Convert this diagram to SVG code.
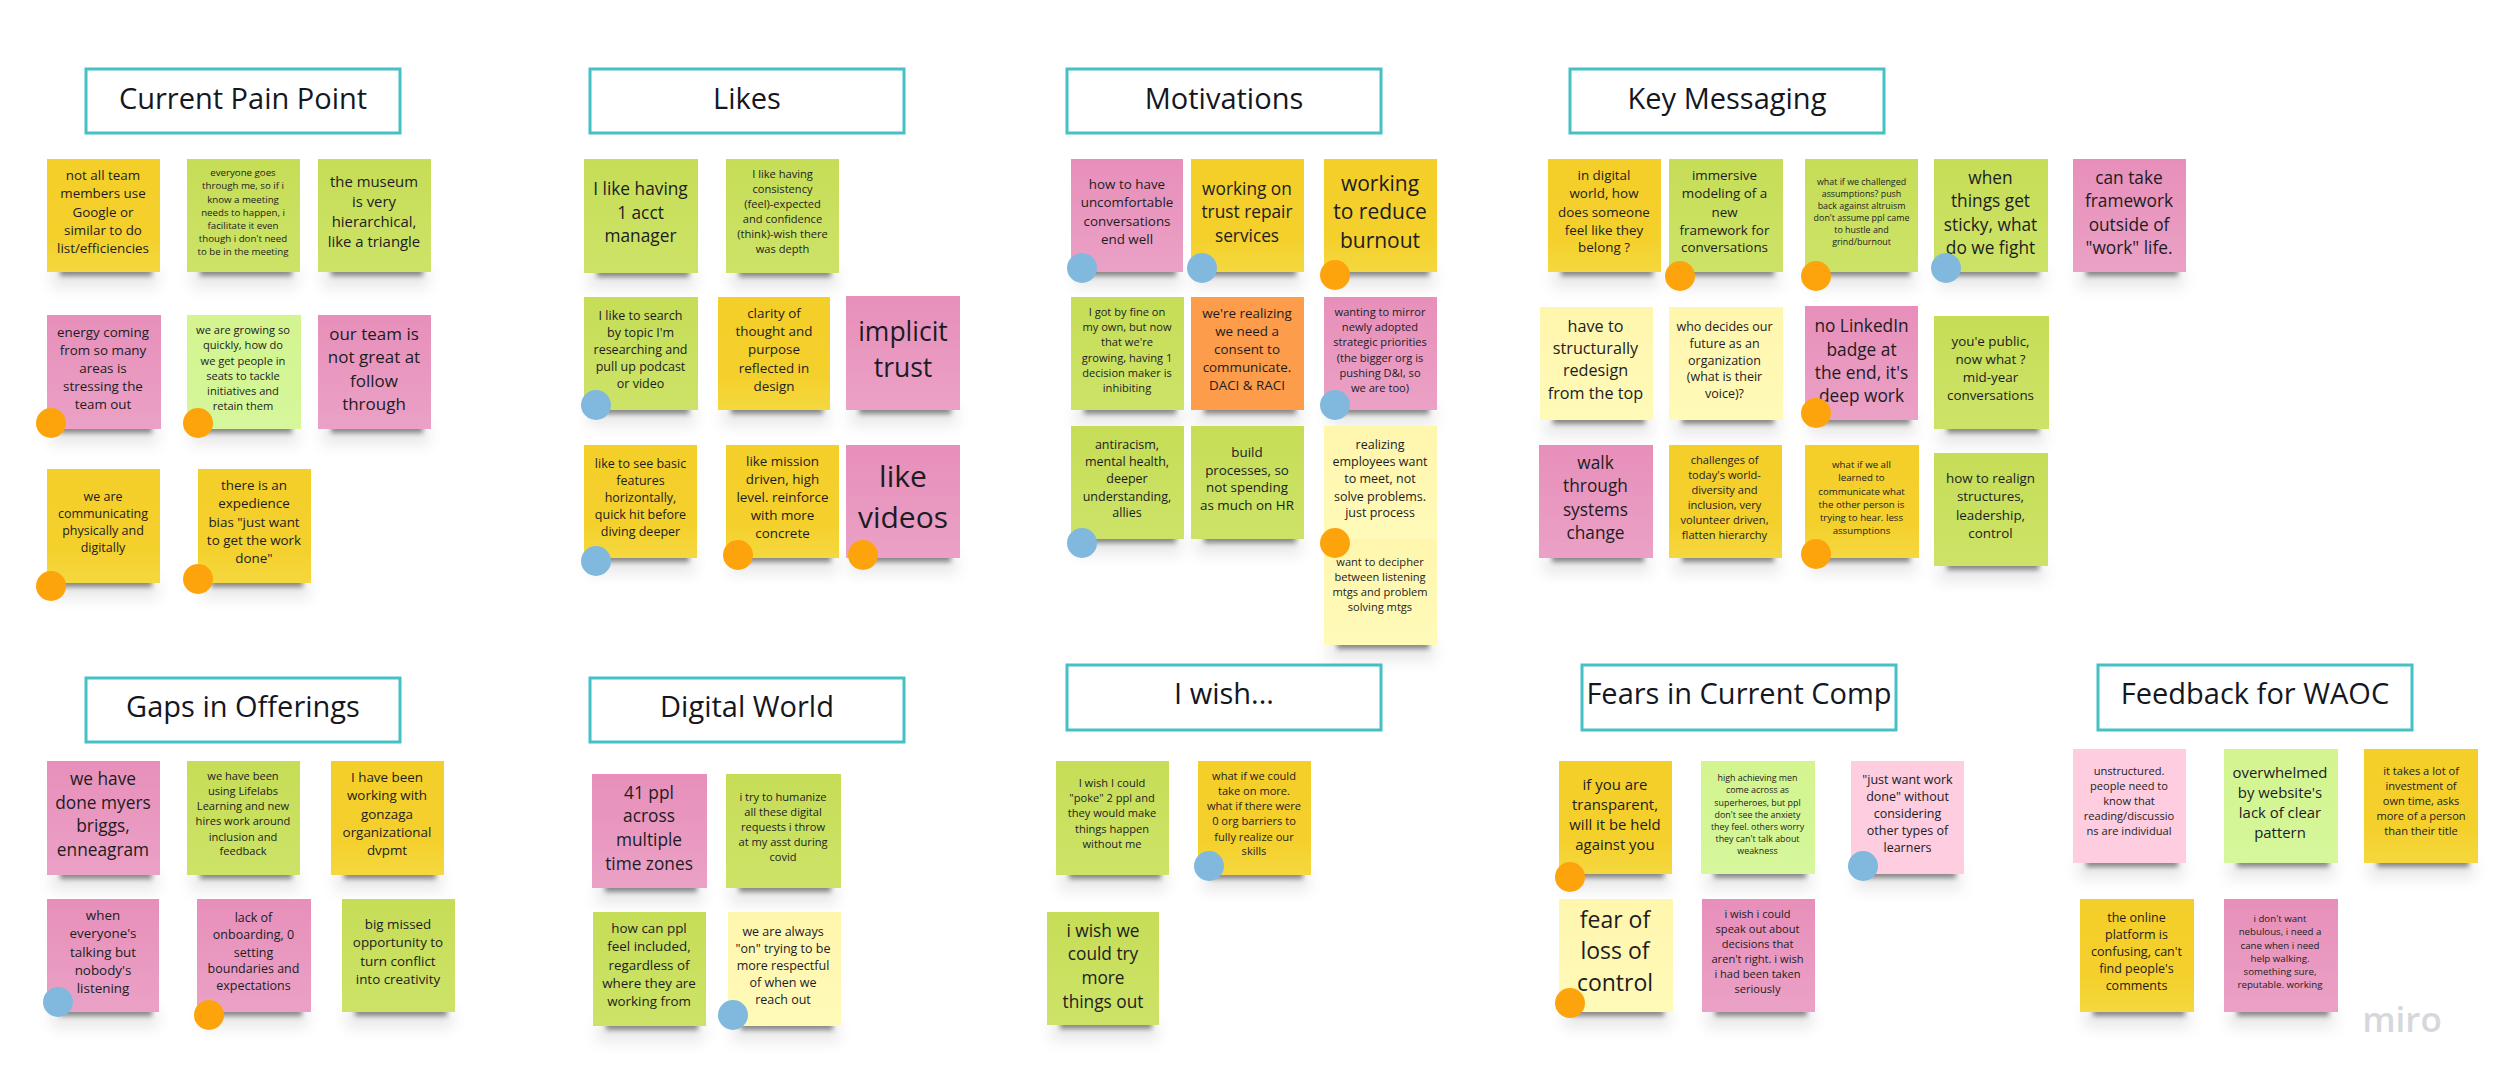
<svg xmlns="http://www.w3.org/2000/svg" width="2500" height="1091" viewBox="0 0 2500 1091">
<style>
text{font-family:"Open Sans","Noto Sans","Liberation Sans",sans-serif;text-anchor:middle;fill:#1c1c22}
.title rect{fill:#fff;stroke:#45c1c6;stroke-width:3}
.title text{font-size:29px;fill:#15171f}
.y{fill:url(#gy)}.l{fill:url(#gl)}.g{fill:url(#gg)}.p{fill:url(#gp)}.w{fill:url(#gw)}.o{fill:#fd9d4c}.q{fill:#fecde0}
.do{fill:#fda40d}.db{fill:#80b9dd}
.f89{font-size:8.9px}.f97{font-size:9.7px}.f111{font-size:11.1px}.f125{font-size:12.5px}.f134{font-size:13.4px}
.f149{font-size:14.9px;transform:translateY(1px)}.f162{font-size:16.2px;transform:translateY(.5px)}.f173{font-size:17.3px;transform:translateY(1.5px)}.f17{font-size:17px;transform:translateY(1.5px)}.f21{font-size:21px;transform:translateY(1.5px)}.f23{font-size:23px;transform:translateY(1.5px)}.f265{font-size:26.5px;transform:translateY(2.5px)}.f30{font-size:30px;transform:translateY(1.5px)}
.logo{font-size:35px;font-weight:600;fill:#d6d7dd}
</style>
<defs>
<linearGradient id="gy" x1="0" y1="0" x2="0" y2="1"><stop offset="0" stop-color="#f4cf2a"/><stop offset=".7" stop-color="#f4d02c"/><stop offset="1" stop-color="#f5d83f"/></linearGradient>
<linearGradient id="gl" x1="0" y1="0" x2="0" y2="1"><stop offset="0" stop-color="#c6dd57"/><stop offset="1" stop-color="#cde368"/></linearGradient>
<linearGradient id="gg" x1="0" y1="0" x2="0" y2="1"><stop offset="0" stop-color="#d3f48f"/><stop offset="1" stop-color="#d6f79b"/></linearGradient>
<linearGradient id="gp" x1="0" y1="0" x2="0" y2="1"><stop offset="0" stop-color="#e78fba"/><stop offset="1" stop-color="#eba1c6"/></linearGradient>
<linearGradient id="gw" x1="0" y1="0" x2="0" y2="1"><stop offset="0" stop-color="#fff6ae"/><stop offset="1" stop-color="#fffab9"/></linearGradient>
<filter id="b1" x="-20%" y="-100%" width="140%" height="300%"><feGaussianBlur stdDeviation="2.5"/></filter>
<filter id="b2" x="-20%" y="-100%" width="140%" height="300%"><feGaussianBlur stdDeviation="7"/></filter>
<g id="s"><rect x="4" y="-4" width="107" height="20" fill="#555" opacity=".12" filter="url(#b2)"/><rect x="13" y="-5" width="92" height="9" fill="#333" opacity=".55" filter="url(#b1)"/></g>
</defs>
<rect width="2500" height="1091" fill="#fff"/>
<g id="connectors"/>

<g id="title-pain" class="title"><rect x="86" y="69" width="314" height="64"/><text x="243" y="109">Current Pain Point</text></g>
<g id="title-likes" class="title"><rect x="590" y="69" width="314" height="64"/><text x="747" y="109">Likes</text></g>
<g id="title-motivations" class="title"><rect x="1067" y="69" width="314" height="64"/><text x="1224" y="109">Motivations</text></g>
<g id="title-key" class="title"><rect x="1570" y="69" width="314" height="64"/><text x="1727" y="109">Key Messaging</text></g>
<g id="title-gaps" class="title"><rect x="86" y="678" width="314" height="64"/><text x="243" y="717">Gaps in Offerings</text></g>
<g id="title-digital" class="title"><rect x="590" y="678" width="314" height="64"/><text x="747" y="717">Digital World</text></g>
<g id="title-wish" class="title"><rect x="1067" y="665" width="314" height="65"/><text x="1224" y="704">I wish...</text></g>
<g id="title-fears" class="title"><rect x="1582" y="665" width="314" height="65"/><text x="1739" y="704">Fears in Current Comp</text></g>
<g id="title-feedback" class="title"><rect x="2098" y="665" width="314" height="65"/><text x="2255" y="704">Feedback for WAOC</text></g>

<g id="pain-1"><use href="#s" x="47" y="272"/><rect class="y" x="47" y="159" width="113" height="113"/><text class="f134"><tspan x="103" y="180">not all team</tspan><tspan x="103" y="198">members use</tspan><tspan x="103" y="216.5">Google or</tspan><tspan x="103" y="234.5">similar to do</tspan><tspan x="103" y="253">list/efficiencies</tspan></text></g>
<g id="pain-2"><use href="#s" x="187" y="272"/><rect class="l" x="187" y="159" width="113" height="113"/><text class="f97"><tspan x="243" y="176">everyone goes</tspan><tspan x="243" y="189">through me, so if i</tspan><tspan x="243" y="202.5">know a meeting</tspan><tspan x="243" y="215.5">needs to happen, i</tspan><tspan x="243" y="229">facilitate it even</tspan><tspan x="243" y="242">though i don't need</tspan><tspan x="243" y="255">to be in the meeting</tspan></text></g>
<g id="pain-3"><use href="#s" x="318" y="272"/><rect class="l" x="318" y="159" width="113" height="113"/><text class="f149"><tspan x="374" y="186">the museum</tspan><tspan x="374" y="206">is very</tspan><tspan x="374" y="226">hierarchical,</tspan><tspan x="374" y="246">like a triangle</tspan></text></g>
<g id="pain-4"><use href="#s" x="47" y="429"/><rect class="p" x="47" y="315" width="114" height="114"/><text class="f134"><tspan x="103" y="337">energy coming</tspan><tspan x="103" y="355">from so many</tspan><tspan x="103" y="373">areas is</tspan><tspan x="103" y="391">stressing the</tspan><tspan x="103" y="409">team out</tspan></text><circle class="do" cx="51" cy="423" r="15"/></g>
<g id="pain-5"><use href="#s" x="187" y="429"/><rect class="g" x="187" y="315" width="114" height="114"/><text class="f111"><tspan x="243" y="334">we are growing so</tspan><tspan x="243" y="349">quickly, how do</tspan><tspan x="243" y="364.5">we get people in</tspan><tspan x="243" y="379.5">seats to tackle</tspan><tspan x="243" y="394.5">initiatives and</tspan><tspan x="243" y="410">retain them</tspan></text><circle class="do" cx="198" cy="423" r="15"/></g>
<g id="pain-6"><use href="#s" x="318" y="429"/><rect class="p" x="318" y="315" width="113" height="114"/><text class="f17"><tspan x="374" y="338">our team is</tspan><tspan x="374" y="361.5">not great at</tspan><tspan x="374" y="385">follow</tspan><tspan x="374" y="408">through</tspan></text></g>
<g id="pain-7"><use href="#s" x="47" y="583"/><rect class="y" x="47" y="469" width="113" height="114"/><text class="f125"><tspan x="103" y="501">we are</tspan><tspan x="103" y="518">communicating</tspan><tspan x="103" y="535">physically and</tspan><tspan x="103" y="552">digitally</tspan></text><circle class="do" cx="51" cy="586" r="15"/></g>
<g id="pain-8"><use href="#s" x="198" y="583"/><rect class="y" x="198" y="469" width="113" height="114"/><text class="f134"><tspan x="254" y="490">there is an</tspan><tspan x="254" y="508">expedience</tspan><tspan x="254" y="526.5">bias "just want</tspan><tspan x="254" y="544.5">to get the work</tspan><tspan x="254" y="563">done"</tspan></text><circle class="do" cx="198" cy="579" r="15"/></g>

<g id="likes-1"><use href="#s" x="584" y="273"/><rect class="l" x="584" y="159" width="114" height="114"/><text class="f173"><tspan x="640.5" y="193">I like having</tspan><tspan x="640.5" y="217">1 acct</tspan><tspan x="640.5" y="240">manager</tspan></text></g>
<g id="likes-2"><use href="#s" x="726" y="273"/><rect class="l" x="726" y="159" width="113" height="114"/><text class="f111"><tspan x="782.5" y="178">I like having</tspan><tspan x="782.5" y="193">consistency</tspan><tspan x="782.5" y="208">(feel)-expected</tspan><tspan x="782.5" y="223">and confidence</tspan><tspan x="782.5" y="238">(think)-wish there</tspan><tspan x="782.5" y="253">was depth</tspan></text></g>
<g id="likes-3"><use href="#s" x="584" y="410"/><rect class="l" x="584" y="297" width="114" height="113"/><text class="f125"><tspan x="640.5" y="320">I like to search</tspan><tspan x="640.5" y="337">by topic I'm</tspan><tspan x="640.5" y="354">researching and</tspan><tspan x="640.5" y="371">pull up podcast</tspan><tspan x="640.5" y="388">or video</tspan></text><circle class="db" cx="596" cy="405" r="15"/></g>
<g id="likes-4"><use href="#s" x="718" y="410"/><rect class="y" x="718" y="297" width="112" height="113"/><text class="f134"><tspan x="774" y="318">clarity of</tspan><tspan x="774" y="336">thought and</tspan><tspan x="774" y="354">purpose</tspan><tspan x="774" y="372.5">reflected in</tspan><tspan x="774" y="390.5">design</tspan></text></g>
<g id="likes-5"><use href="#s" x="846" y="410"/><rect class="p" x="846" y="296" width="114" height="114"/><text class="f265"><tspan x="903" y="338">implicit</tspan><tspan x="903" y="374">trust</tspan></text></g>
<g id="likes-6"><use href="#s" x="584" y="558"/><rect class="y" x="584" y="445" width="113" height="113"/><text class="f125"><tspan x="640.5" y="468">like to see basic</tspan><tspan x="640.5" y="485">features</tspan><tspan x="640.5" y="502">horizontally,</tspan><tspan x="640.5" y="519">quick hit before</tspan><tspan x="640.5" y="536">diving deeper</tspan></text><circle class="db" cx="596" cy="561" r="15"/></g>
<g id="likes-7"><use href="#s" x="726" y="558"/><rect class="y" x="726" y="445" width="113" height="113"/><text class="f134"><tspan x="782.5" y="465.5">like mission</tspan><tspan x="782.5" y="483.5">driven, high</tspan><tspan x="782.5" y="502">level. reinforce</tspan><tspan x="782.5" y="520">with more</tspan><tspan x="782.5" y="538">concrete</tspan></text><circle class="do" cx="738" cy="555" r="15"/></g>
<g id="likes-8"><use href="#s" x="846" y="558"/><rect class="p" x="846" y="445" width="114" height="113"/><text class="f30"><tspan x="903" y="485">like</tspan><tspan x="903" y="526">videos</tspan></text><circle class="do" cx="863" cy="555" r="15"/></g>

<g id="motivations-1"><use href="#s" x="1071" y="272"/><rect class="p" x="1071" y="159" width="112" height="113"/><text class="f134"><tspan x="1127" y="189">how to have</tspan><tspan x="1127" y="207">uncomfortable</tspan><tspan x="1127" y="225.5">conversations</tspan><tspan x="1127" y="243.5">end well</tspan></text><circle class="db" cx="1082" cy="268" r="15"/></g>
<g id="motivations-2"><use href="#s" x="1191" y="272"/><rect class="y" x="1191" y="159" width="113" height="113"/><text class="f173"><tspan x="1247" y="193">working on</tspan><tspan x="1247" y="216.5">trust repair</tspan><tspan x="1247" y="240.5">services</tspan></text><circle class="db" cx="1202" cy="268" r="15"/></g>
<g id="motivations-3"><use href="#s" x="1324" y="272"/><rect class="y" x="1324" y="159" width="113" height="113"/><text class="f21"><tspan x="1380" y="189">working</tspan><tspan x="1380" y="217.5">to reduce</tspan><tspan x="1380" y="246">burnout</tspan></text><circle class="do" cx="1335" cy="275" r="15"/></g>
<g id="motivations-4"><use href="#s" x="1071" y="410"/><rect class="l" x="1071" y="297" width="113" height="113"/><text class="f111"><tspan x="1127" y="316">I got by fine on</tspan><tspan x="1127" y="331">my own, but now</tspan><tspan x="1127" y="346">that we're</tspan><tspan x="1127" y="361.5">growing, having 1</tspan><tspan x="1127" y="376.5">decision maker is</tspan><tspan x="1127" y="391.5">inhibiting</tspan></text></g>
<g id="motivations-5"><use href="#s" x="1191" y="410"/><rect class="o" x="1191" y="297" width="113" height="113"/><text class="f134"><tspan x="1247" y="317.5">we're realizing</tspan><tspan x="1247" y="336">we need a</tspan><tspan x="1247" y="354">consent to</tspan><tspan x="1247" y="372">communicate.</tspan><tspan x="1247" y="390">DACI &amp; RACI</tspan></text></g>
<g id="motivations-6"><use href="#s" x="1324" y="410"/><rect class="p" x="1324" y="297" width="113" height="113"/><text class="f111"><tspan x="1380" y="316">wanting to mirror</tspan><tspan x="1380" y="331">newly adopted</tspan><tspan x="1380" y="346">strategic priorities</tspan><tspan x="1380" y="361.5">(the bigger org is</tspan><tspan x="1380" y="376.5">pushing D&amp;I, so</tspan><tspan x="1380" y="391.5">we are too)</tspan></text><circle class="db" cx="1335" cy="405" r="15"/></g>
<g id="motivations-7"><use href="#s" x="1071" y="539"/><rect class="l" x="1071" y="426" width="113" height="113"/><text class="f125"><tspan x="1127" y="449">antiracism,</tspan><tspan x="1127" y="466">mental health,</tspan><tspan x="1127" y="483">deeper</tspan><tspan x="1127" y="500.5">understanding,</tspan><tspan x="1127" y="517">allies</tspan></text><circle class="db" cx="1082" cy="543" r="15"/></g>
<g id="motivations-8"><use href="#s" x="1191" y="539"/><rect class="l" x="1191" y="426" width="113" height="113"/><text class="f134"><tspan x="1247" y="456.5">build</tspan><tspan x="1247" y="474.5">processes, so</tspan><tspan x="1247" y="492">not spending</tspan><tspan x="1247" y="510">as much on HR</tspan></text></g>
<g id="motivations-10"><use href="#s" x="1324" y="645"/><rect class="w" x="1324" y="535" width="113" height="110"/><text class="f111"><tspan x="1380" y="566">want to decipher</tspan><tspan x="1380" y="581">between listening</tspan><tspan x="1380" y="596">mtgs and problem</tspan><tspan x="1380" y="611">solving mtgs</tspan></text></g>
<g id="motivations-9"><rect class="w" x="1324" y="426" width="113" height="113"/><text class="f125"><tspan x="1380" y="449">realizing</tspan><tspan x="1380" y="466">employees want</tspan><tspan x="1380" y="483">to meet, not</tspan><tspan x="1380" y="500.5">solve problems.</tspan><tspan x="1380" y="517">just process</tspan></text><circle class="do" cx="1335" cy="543" r="15"/></g>

<g id="key-1"><use href="#s" x="1548" y="272"/><rect class="y" x="1548" y="159" width="113" height="113"/><text class="f134"><tspan x="1604" y="180">in digital</tspan><tspan x="1604" y="198">world, how</tspan><tspan x="1604" y="216.5">does someone</tspan><tspan x="1604" y="234.5">feel like they</tspan><tspan x="1604" y="252">belong ?</tspan></text></g>
<g id="key-2"><use href="#s" x="1669" y="272"/><rect class="l" x="1669" y="159" width="114" height="113"/><text class="f134"><tspan x="1724.5" y="180">immersive</tspan><tspan x="1724.5" y="198">modeling of a</tspan><tspan x="1724.5" y="216.5">new</tspan><tspan x="1724.5" y="234.5">framework for</tspan><tspan x="1724.5" y="252">conversations</tspan></text><circle class="do" cx="1680" cy="276" r="15"/></g>
<g id="key-3"><use href="#s" x="1805" y="272"/><rect class="l" x="1805" y="159" width="113" height="113"/><text class="f89"><tspan x="1861.5" y="185">what if we challenged</tspan><tspan x="1861.5" y="197">assumptions? push</tspan><tspan x="1861.5" y="209">back against altruism</tspan><tspan x="1861.5" y="221">don't assume ppl came</tspan><tspan x="1861.5" y="233">to hustle and</tspan><tspan x="1861.5" y="245">grind/burnout</tspan></text><circle class="do" cx="1816" cy="276" r="15"/></g>
<g id="key-4"><use href="#s" x="1934" y="272"/><rect class="l" x="1934" y="159" width="114" height="113"/><text class="f173"><tspan x="1990.5" y="182">when</tspan><tspan x="1990.5" y="205.5">things get</tspan><tspan x="1990.5" y="229">sticky, what</tspan><tspan x="1990.5" y="252">do we fight</tspan></text><circle class="db" cx="1946" cy="268" r="15"/></g>
<g id="key-5"><use href="#s" x="2073" y="272"/><rect class="p" x="2073" y="159" width="113" height="113"/><text class="f173"><tspan x="2129" y="182">can take</tspan><tspan x="2129" y="205.5">framework</tspan><tspan x="2129" y="229">outside of</tspan><tspan x="2129" y="252">"work" life.</tspan></text></g>
<g id="key-6"><use href="#s" x="1540" y="420"/><rect class="w" x="1540" y="307" width="113" height="113"/><text class="f162"><tspan x="1595.5" y="331.5">have to</tspan><tspan x="1595.5" y="353.5">structurally</tspan><tspan x="1595.5" y="375.5">redesign</tspan><tspan x="1595.5" y="398">from the top</tspan></text></g>
<g id="key-7"><use href="#s" x="1669" y="420"/><rect class="w" x="1669" y="307" width="114" height="113"/><text class="f125"><tspan x="1724.5" y="330.5">who decides our</tspan><tspan x="1724.5" y="347.5">future as an</tspan><tspan x="1724.5" y="364.5">organization</tspan><tspan x="1724.5" y="381">(what is their</tspan><tspan x="1724.5" y="398">voice)?</tspan></text></g>
<g id="key-8"><use href="#s" x="1805" y="420"/><rect class="p" x="1805" y="306" width="113" height="114"/><text class="f173"><tspan x="1861.5" y="330.5">no LinkedIn</tspan><tspan x="1861.5" y="354">badge at</tspan><tspan x="1861.5" y="377">the end, it's</tspan><tspan x="1861.5" y="400.5">deep work</tspan></text><circle class="do" cx="1816" cy="413" r="15"/></g>
<g id="key-9"><use href="#s" x="1934" y="429"/><rect class="l" x="1934" y="316" width="115" height="113"/><text class="f134"><tspan x="1990.5" y="346">you'e public,</tspan><tspan x="1990.5" y="364">now what ?</tspan><tspan x="1990.5" y="381.5">mid-year</tspan><tspan x="1990.5" y="399.5">conversations</tspan></text></g>
<g id="key-10"><use href="#s" x="1539" y="558"/><rect class="p" x="1539" y="445" width="114" height="113"/><text class="f173"><tspan x="1595.5" y="467">walk</tspan><tspan x="1595.5" y="490.5">through</tspan><tspan x="1595.5" y="514">systems</tspan><tspan x="1595.5" y="537">change</tspan></text></g>
<g id="key-11"><use href="#s" x="1669" y="558"/><rect class="y" x="1669" y="445" width="113" height="113"/><text class="f111"><tspan x="1724.5" y="464">challenges of</tspan><tspan x="1724.5" y="479">today's world-</tspan><tspan x="1724.5" y="494">diversity and</tspan><tspan x="1724.5" y="509">inclusion, very</tspan><tspan x="1724.5" y="524">volunteer driven,</tspan><tspan x="1724.5" y="539">flatten hierarchy</tspan></text></g>
<g id="key-12"><use href="#s" x="1805" y="558"/><rect class="y" x="1805" y="445" width="114" height="113"/><text class="f97"><tspan x="1861.5" y="468">what if we all</tspan><tspan x="1861.5" y="481">learned to</tspan><tspan x="1861.5" y="494.5">communicate what</tspan><tspan x="1861.5" y="507.5">the other person is</tspan><tspan x="1861.5" y="520.5">trying to hear. less</tspan><tspan x="1861.5" y="534">assumptions</tspan></text><circle class="do" cx="1816" cy="554" r="15"/></g>
<g id="key-13"><use href="#s" x="1934" y="566"/><rect class="l" x="1934" y="453" width="114" height="113"/><text class="f134"><tspan x="1990.5" y="483">how to realign</tspan><tspan x="1990.5" y="501">structures,</tspan><tspan x="1990.5" y="519.5">leadership,</tspan><tspan x="1990.5" y="537.5">control</tspan></text></g>

<g id="gaps-1"><use href="#s" x="47" y="875"/><rect class="p" x="47" y="761" width="113" height="114"/><text class="f173"><tspan x="103" y="783">we have</tspan><tspan x="103" y="807">done myers</tspan><tspan x="103" y="830.5">briggs,</tspan><tspan x="103" y="854">enneagram</tspan></text></g>
<g id="gaps-2"><use href="#s" x="187" y="875"/><rect class="l" x="187" y="761" width="113" height="114"/><text class="f111"><tspan x="243" y="780">we have been</tspan><tspan x="243" y="795">using Lifelabs</tspan><tspan x="243" y="810">Learning and new</tspan><tspan x="243" y="825">hires work around</tspan><tspan x="243" y="840.5">inclusion and</tspan><tspan x="243" y="855">feedback</tspan></text></g>
<g id="gaps-3"><use href="#s" x="331" y="875"/><rect class="y" x="331" y="761" width="113" height="114"/><text class="f134"><tspan x="387" y="782">I have been</tspan><tspan x="387" y="800">working with</tspan><tspan x="387" y="818.5">gonzaga</tspan><tspan x="387" y="836.5">organizational</tspan><tspan x="387" y="854.5">dvpmt</tspan></text></g>
<g id="gaps-4"><use href="#s" x="47" y="1012"/><rect class="p" x="47" y="899" width="112" height="113"/><text class="f134"><tspan x="103" y="920">when</tspan><tspan x="103" y="938">everyone's</tspan><tspan x="103" y="956.5">talking but</tspan><tspan x="103" y="974.5">nobody's</tspan><tspan x="103" y="993">listening</tspan></text><circle class="db" cx="58" cy="1002" r="15"/></g>
<g id="gaps-5"><use href="#s" x="197" y="1012"/><rect class="p" x="197" y="899" width="114" height="113"/><text class="f125"><tspan x="253.5" y="922">lack of</tspan><tspan x="253.5" y="939">onboarding, 0</tspan><tspan x="253.5" y="956.5">setting</tspan><tspan x="253.5" y="973">boundaries and</tspan><tspan x="253.5" y="990">expectations</tspan></text><circle class="do" cx="209" cy="1015" r="15"/></g>
<g id="gaps-6"><use href="#s" x="342" y="1012"/><rect class="l" x="342" y="899" width="113" height="113"/><text class="f134"><tspan x="398" y="929">big missed</tspan><tspan x="398" y="947">opportunity to</tspan><tspan x="398" y="965.5">turn conflict</tspan><tspan x="398" y="984">into creativity</tspan></text></g>

<g id="digital-1"><use href="#s" x="592" y="888"/><rect class="p" x="592" y="774" width="115" height="114"/><text class="f173"><tspan x="649" y="797">41 ppl</tspan><tspan x="649" y="820.5">across</tspan><tspan x="649" y="844">multiple</tspan><tspan x="649" y="868">time zones</tspan></text></g>
<g id="digital-2"><use href="#s" x="726" y="888"/><rect class="l" x="726" y="774" width="115" height="114"/><text class="f111"><tspan x="783" y="801">i try to humanize</tspan><tspan x="783" y="816">all these digital</tspan><tspan x="783" y="831">requests i throw</tspan><tspan x="783" y="846">at my asst during</tspan><tspan x="783" y="861">covid</tspan></text></g>
<g id="digital-3"><use href="#s" x="593" y="1026"/><rect class="l" x="593" y="912" width="113" height="114"/><text class="f134"><tspan x="649" y="933">how can ppl</tspan><tspan x="649" y="951">feel included,</tspan><tspan x="649" y="969.5">regardless of</tspan><tspan x="649" y="987.5">where they are</tspan><tspan x="649" y="1006">working from</tspan></text></g>
<g id="digital-4"><use href="#s" x="728" y="1026"/><rect class="w" x="728" y="912" width="113" height="114"/><text class="f125"><tspan x="783" y="935.5">we are always</tspan><tspan x="783" y="952.5">"on" trying to be</tspan><tspan x="783" y="969.5">more respectful</tspan><tspan x="783" y="986.5">of when we</tspan><tspan x="783" y="1003.5">reach out</tspan></text><circle class="db" cx="733" cy="1015" r="15"/></g>

<g id="wish-1"><use href="#s" x="1056" y="875"/><rect class="l" x="1056" y="761" width="113" height="114"/><text class="f111"><tspan x="1112" y="787">I wish I could</tspan><tspan x="1112" y="802">"poke" 2 ppl and</tspan><tspan x="1112" y="817">they would make</tspan><tspan x="1112" y="832.5">things happen</tspan><tspan x="1112" y="847.5">without me</tspan></text></g>
<g id="wish-2"><use href="#s" x="1198" y="875"/><rect class="y" x="1198" y="761" width="113" height="114"/><text class="f111"><tspan x="1254" y="780">what if we could</tspan><tspan x="1254" y="795">take on more.</tspan><tspan x="1254" y="810">what if there were</tspan><tspan x="1254" y="825">0 org barriers to</tspan><tspan x="1254" y="840.5">fully realize our</tspan><tspan x="1254" y="855">skills</tspan></text><circle class="db" cx="1209" cy="866" r="15"/></g>
<g id="wish-3"><use href="#s" x="1047" y="1025"/><rect class="l" x="1047" y="912" width="112" height="113"/><text class="f173"><tspan x="1103" y="935">i wish we</tspan><tspan x="1103" y="958.5">could try</tspan><tspan x="1103" y="982">more</tspan><tspan x="1103" y="1006">things out</tspan></text></g>

<g id="fears-1"><use href="#s" x="1559" y="874"/><rect class="y" x="1559" y="761" width="113" height="113"/><text class="f149"><tspan x="1615" y="788.5">if you are</tspan><tspan x="1615" y="808.5">transparent,</tspan><tspan x="1615" y="828.5">will it be held</tspan><tspan x="1615" y="848.5">against you</tspan></text><circle class="do" cx="1570" cy="877" r="15"/></g>
<g id="fears-2"><use href="#s" x="1701" y="874"/><rect class="g" x="1701" y="761" width="114" height="113"/><text class="f89"><tspan x="1757.5" y="781">high achieving men</tspan><tspan x="1757.5" y="793">come across as</tspan><tspan x="1757.5" y="805.5">superheroes, but ppl</tspan><tspan x="1757.5" y="817.5">don't see the anxiety</tspan><tspan x="1757.5" y="829.5">they feel. others worry</tspan><tspan x="1757.5" y="841.5">they can't talk about</tspan><tspan x="1757.5" y="853.5">weakness</tspan></text></g>
<g id="fears-3"><use href="#s" x="1851" y="874"/><rect class="q" x="1851" y="761" width="113" height="113"/><text class="f125"><tspan x="1907.5" y="784">"just want work</tspan><tspan x="1907.5" y="801">done" without</tspan><tspan x="1907.5" y="818">considering</tspan><tspan x="1907.5" y="835">other types of</tspan><tspan x="1907.5" y="852">learners</tspan></text><circle class="db" cx="1863" cy="866" r="15"/></g>
<g id="fears-4"><use href="#s" x="1559" y="1012"/><rect class="w" x="1559" y="899" width="114" height="113"/><text class="f23"><tspan x="1615" y="926">fear of</tspan><tspan x="1615" y="957.5">loss of</tspan><tspan x="1615" y="989">control</tspan></text><circle class="do" cx="1570" cy="1003" r="15"/></g>
<g id="fears-5"><use href="#s" x="1702" y="1012"/><rect class="p" x="1702" y="899" width="113" height="113"/><text class="f111"><tspan x="1757.5" y="918">i wish i could</tspan><tspan x="1757.5" y="933">speak out about</tspan><tspan x="1757.5" y="948">decisions that</tspan><tspan x="1757.5" y="963">aren't right. i wish</tspan><tspan x="1757.5" y="978">i had been taken</tspan><tspan x="1757.5" y="993">seriously</tspan></text></g>

<g id="feedback-1"><use href="#s" x="2073" y="863"/><rect class="q" x="2073" y="749" width="113" height="114"/><text class="f111"><tspan x="2129" y="775">unstructured.</tspan><tspan x="2129" y="790">people need to</tspan><tspan x="2129" y="805">know that</tspan><tspan x="2129" y="820">reading/discussio</tspan><tspan x="2129" y="835">ns are individual</tspan></text></g>
<g id="feedback-2"><use href="#s" x="2224" y="863"/><rect class="g" x="2224" y="749" width="114" height="114"/><text class="f149"><tspan x="2280" y="777">overwhelmed</tspan><tspan x="2280" y="797">by website's</tspan><tspan x="2280" y="817">lack of clear</tspan><tspan x="2280" y="837">pattern</tspan></text></g>
<g id="feedback-3"><use href="#s" x="2364" y="863"/><rect class="y" x="2364" y="749" width="114" height="114"/><text class="f111"><tspan x="2421" y="775">it takes a lot of</tspan><tspan x="2421" y="790">investment of</tspan><tspan x="2421" y="805">own time, asks</tspan><tspan x="2421" y="820">more of a person</tspan><tspan x="2421" y="835">than their title</tspan></text></g>
<g id="feedback-4"><use href="#s" x="2080" y="1012"/><rect class="y" x="2080" y="899" width="114" height="113"/><text class="f125"><tspan x="2136.5" y="922">the online</tspan><tspan x="2136.5" y="939">platform is</tspan><tspan x="2136.5" y="956">confusing, can't</tspan><tspan x="2136.5" y="973">find people's</tspan><tspan x="2136.5" y="990">comments</tspan></text></g>
<g id="feedback-5"><use href="#s" x="2224" y="1012"/><rect class="p" x="2224" y="899" width="114" height="113"/><text class="f97"><tspan x="2280" y="922">i don't want</tspan><tspan x="2280" y="935">nebulous, i need a</tspan><tspan x="2280" y="948.5">cane when i need</tspan><tspan x="2280" y="961.5">help walking.</tspan><tspan x="2280" y="974.5">something sure,</tspan><tspan x="2280" y="988">reputable. working</tspan></text></g>
<text class="logo" x="2402" y="1032">miro</text>
</svg>
